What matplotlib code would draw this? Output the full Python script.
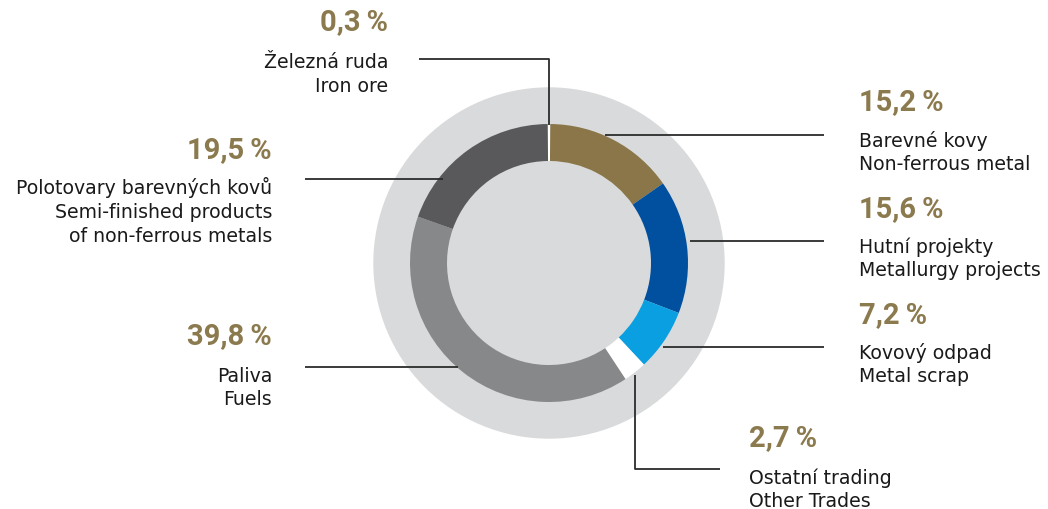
import matplotlib
matplotlib.use("Agg")
import matplotlib.pyplot as plt
from matplotlib.patches import Circle

# slice data, clockwise from 12 o'clock
labels_cz = ["Železná ruda", "Barevné kovy", "Hutní projekty", "Kovový odpad",
             "Ostatní trading", "Paliva", "Polotovary barevných kovů"]
labels_en = ["Iron ore", "Non-ferrous metal", "Metallurgy projects", "Metal scrap",
             "Other Trades", "Fuels", "Semi-finished products\nof non-ferrous metals"]
shares = [0.3, 15.2, 15.6, 7.2, 2.7, 39.8, 19.5]
pct_text = ["0,3\u2009%", "15,2\u2009%", "15,6\u2009%", "7,2\u2009%", "2,7\u2009%", "39,8\u2009%", "19,5\u2009%"]
colors = ["#ffffff", "#8a7648", "#00509f", "#0a9fe0", "#ffffff", "#87888a", "#59595b"]

W, H = 1048, 510
CX, CY = 549, 264
BG_GRAY = "#d9dadb"
GOLD = "#8b7a4e"
LINE = "#2b2b2b"


def y(py):
    # pixel row -> data y
    return H - py


fig = plt.figure(figsize=(W / 100, H / 100), dpi=100)
ax = fig.add_axes([0, 0, 1, 1])

ax.add_patch(Circle((CX, y(CY)), 175, color=BG_GRAY, zorder=0))

total = sum(shares)
start = 90 + shares[0] / total * 360 / 2
ax.pie(shares, colors=colors, startangle=start, counterclock=False,
       center=(CX, y(CY)), radius=139, frame=True,
       wedgeprops=dict(width=37, linewidth=0))
ax.set_xlim(0, W)
ax.set_ylim(0, H)
ax.set_aspect("equal")
ax.axis("off")

# leader lines (pixel coords)
leaders = [
    [(419, 60), (549, 60), (549, 126)],
    [(605, 136), (824, 136)],
    [(690, 242), (824, 242)],
    [(663, 348), (824, 348)],
    [(635, 376), (635, 470), (720, 470)],
    [(458, 368), (305, 368)],
    [(443, 180), (305, 180)],
]
for pts in leaders:
    ax.plot([p[0] for p in pts], [y(p[1]) for p in pts], color=LINE, lw=1.3,
            solid_capstyle="butt", zorder=5)

# text anchors: (x, pct y, first label line y, alignment)
anchors = [
    (388, 22, 63, "right"),
    (859, 102, 141, "left"),
    (859, 209, 247, "left"),
    (859, 315, 353, "left"),
    (749, 438, 478, "left"),
    (272, 336, 376, "right"),
    (272, 150, 188, "right"),
]
for i, (tx, py, ly, ha) in enumerate(anchors):
    ax.text(tx, y(py), pct_text[i], ha=ha, va="center", color=GOLD,
            fontsize=21, fontweight="bold", family=["Roboto", "DejaVu Sans"])
    lines = [labels_cz[i]] + labels_en[i].split("\n")
    for k, s in enumerate(lines):
        ax.text(tx, y(ly + 24 * k), s, ha=ha, va="center", color="#1a1a1a",
                fontsize=13.6, family=["DejaVu Sans"])

fig.savefig("out.png", dpi=100, facecolor="white")
